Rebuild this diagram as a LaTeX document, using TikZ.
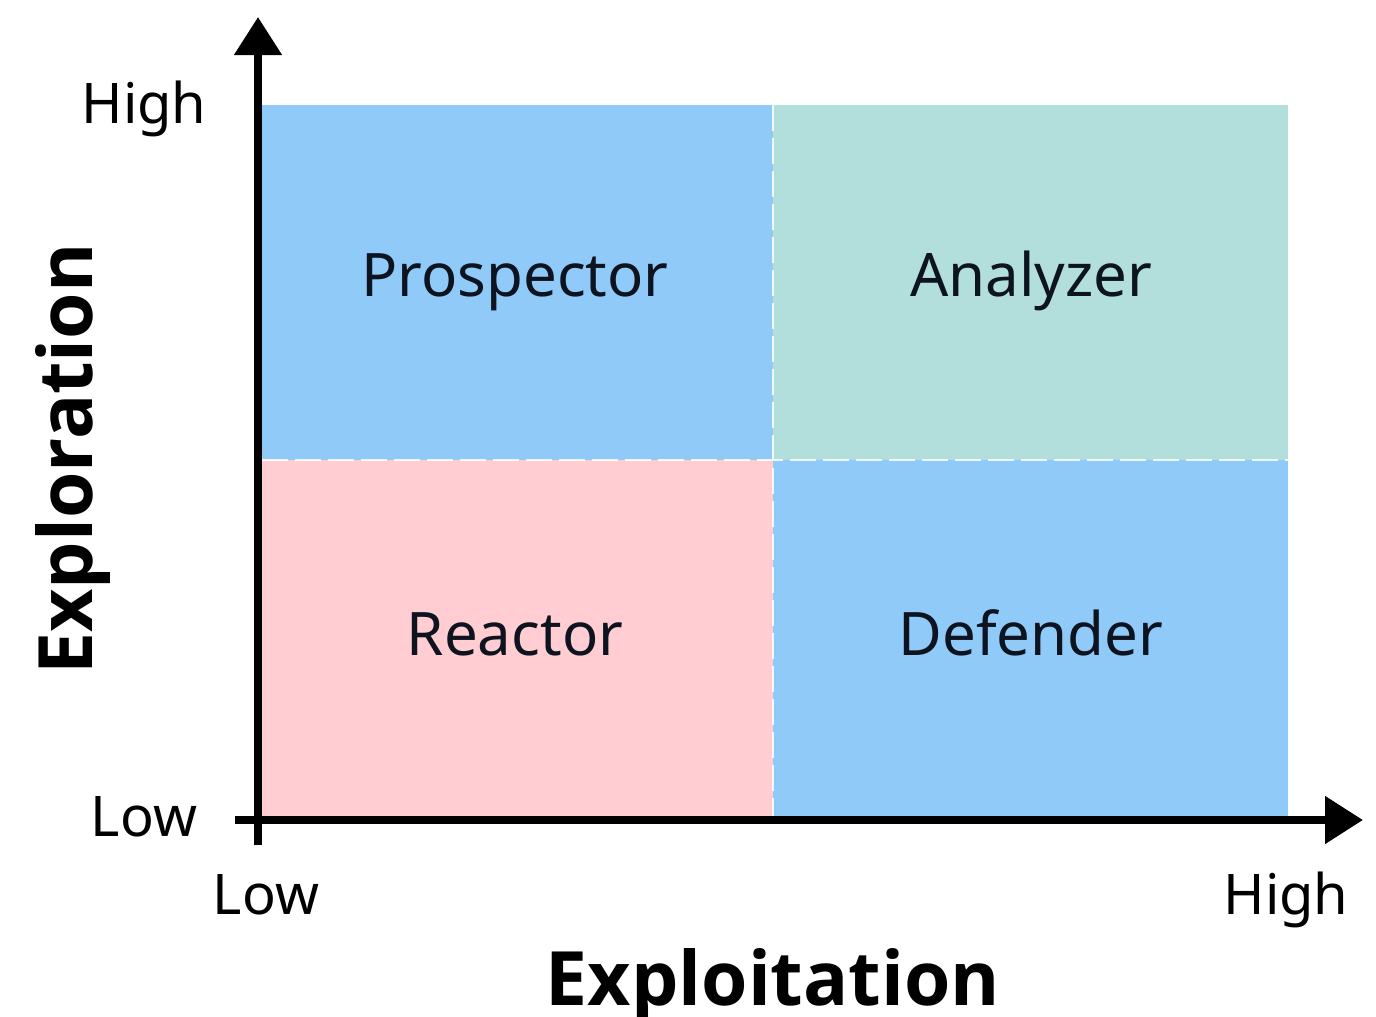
\documentclass[tikz,border=0pt]{standalone}
\usepackage{fontspec}
\setmainfont{Noto Sans}
\newfontfamily\titlefont{Open Sans}
\usetikzlibrary{arrows.meta}

\definecolor{quadblue}{HTML}{90CAF9}
\definecolor{quadteal}{HTML}{B2DFDB}
\definecolor{quadpink}{HTML}{FFCDD2}
\definecolor{inkdark}{HTML}{0E1320}

\tikzset{
  divider/.style={draw=white, line width=1.6pt, dash pattern=on 26pt off 7pt, opacity=0.85},
  axisline/.style={draw=black, line width=8pt,
    -{Triangle[length=38pt,width=46pt]}},
  quadlabel/.style={anchor=base, text=inkdark, font=\fontsize{60}{68}\selectfont},
  ticklabel/.style={anchor=base, text=black, font=\fontsize{56}{64}\selectfont},
  axistitle/.style={anchor=base, text=black, font=\titlefont\bfseries\fontsize{75}{84}\selectfont},
}

\begin{document}
\begin{tikzpicture}[x=1pt,y=-1pt]
  \useasboundingbox[fill=white] (0,0) rectangle (1376,1017);

  % four quadrants
  \fill[quadblue] (262,105) rectangle (773,460);
  \fill[quadteal] (773,105) rectangle (1288,460);
  \fill[quadpink] (262,460) rectangle (773,816);
  \fill[quadblue] (773,460) rectangle (1288,816);

  % dashed dividers between quadrants
  \coordinate (divL) at (262,460);
  \coordinate (divR) at (1288,460);
  \coordinate (divT) at (773,105);
  \coordinate (divB) at (773,816);
  \draw[divider] (divL) -- (divR);
  \draw[divider] (divT) -- (divB);

  % axes
  \coordinate (ybot) at (258,845);
  \coordinate (ytop) at (258,17);
  \coordinate (xleft) at (235,820);
  \coordinate (xright) at (1363,820);
  \draw[axisline] (ybot) -- (ytop);
  \draw[axisline] (xleft) -- (xright);

  % quadrant names
  \node[quadlabel] (prospector) at (515,296) {Prospector};
  \node[quadlabel] (analyzer)   at (1031,296) {Analyzer};
  \node[quadlabel] (reactor)    at (515,655) {Reactor};
  \node[quadlabel] (defender)   at (1031,655) {Defender};

  % tick labels
  \node[ticklabel] (yhigh) at (144,123) {High};
  \node[ticklabel] (ylow)  at (144,836) {Low};
  \node[ticklabel] (xlow)  at (266,914) {Low};
  \node[ticklabel] (xhigh) at (1286,914) {High};

  % axis titles
  \node[axistitle] (xtitle) at (773,1005) {Exploitation};
  \node[axistitle, rotate=90] (ytitle) at (92,459) {Exploration};
\end{tikzpicture}
\end{document}
